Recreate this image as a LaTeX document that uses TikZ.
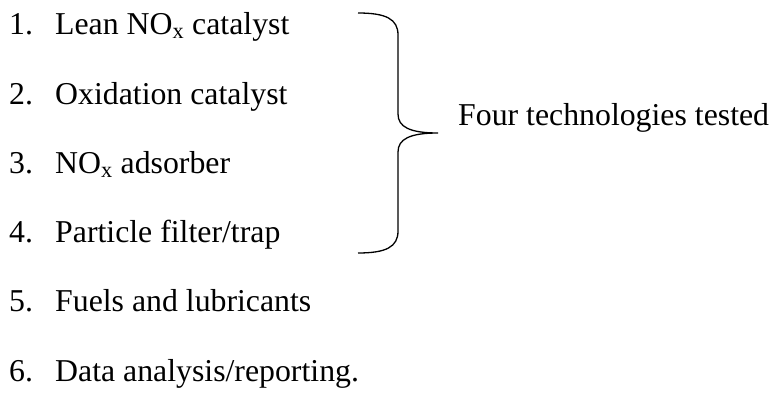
\documentclass[tikz,border=0pt]{standalone}
\usepackage{fontspec}
\setmainfont{Liberation Serif}
\usepackage{tikz}
\usetikzlibrary{positioning}

\tikzset{
  itemnum/.style={anchor=base west, inner sep=0pt},
  itemtext/.style={anchor=base west, inner sep=0pt},
  bigbrace/.style={line width=1.3pt}
}

\begin{document}
\begin{tikzpicture}[x=1pt, y=1pt, font=\fontsize{31.8}{38}\selectfont]
    \useasboundingbox (0,0) rectangle (774,-396);
    \foreach \i/\txt in {1/{Lean NO\textsubscript{x} catalyst},
                         2/{Oxidation catalyst},
                         3/{NO\textsubscript{x} adsorber},
                         4/{Particle filter/trap},
                         5/{Fuels and lubricants},
                         6/{Data analysis/reporting.}}{
      \node[itemnum] (n\i) at (9,{-35-69.2*(\i-1)}) {\i.};
      \node[itemtext] (t\i) at (55,{-35-69.2*(\i-1)}) {\txt};
    }
    % the brace grouping items 1--4
    \coordinate (bracetop) at (358,-13);
    \coordinate (bracetip) at (438,-133);
    \coordinate (bracebot) at (358,-253);
    \draw[bigbrace] (bracetop) .. controls (386,-13) and (398,-19) .. (398,-35)
      -- (398,-114) .. controls (398,-127) and (410,-133) .. (bracetip)
      .. controls (410,-133) and (398,-139) .. (398,-152)
      -- (398,-231) .. controls (398,-247) and (386,-253) .. (bracebot);
    \node[itemtext] (tested) at (458,-125) {Four technologies tested};
  \end{tikzpicture}
\end{document}
